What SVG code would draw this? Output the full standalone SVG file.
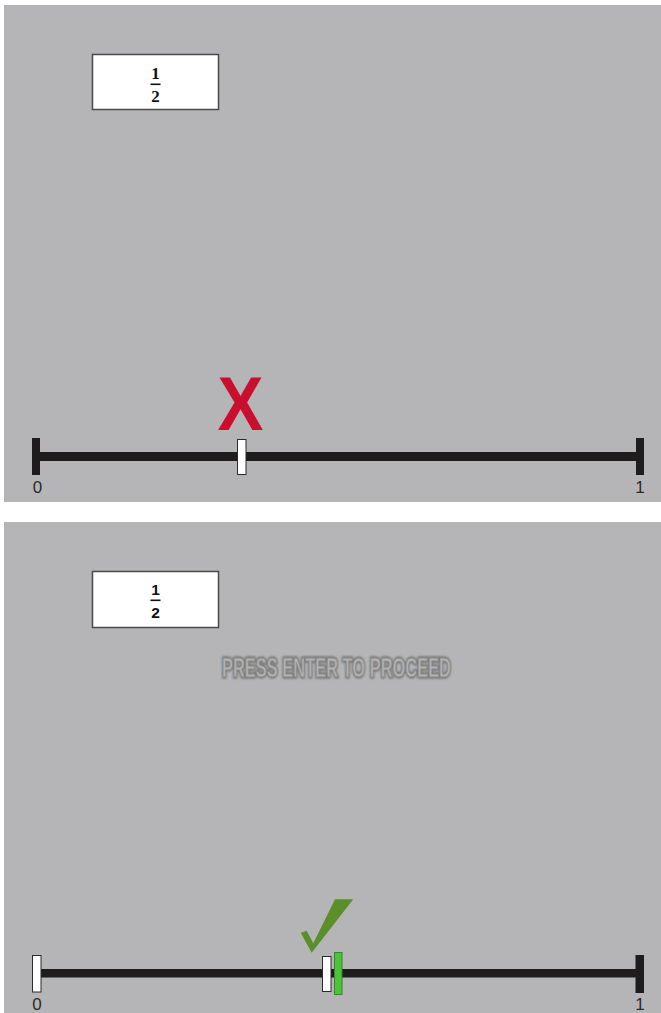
<svg xmlns="http://www.w3.org/2000/svg" width="661" height="1013" viewBox="0 0 661 1013">
  <defs>
    <style>
      .panel { fill: #b5b5b7; }
      .card { fill: #ffffff; stroke: #4a4a4a; stroke-width: 1.5; }
      .bar { fill: #1e1c1d; }
      .lbl { font-family: "Liberation Sans", Arial, sans-serif; font-size: 17px; fill: #2a2a2a; text-anchor: middle; }
      .fracS { font-family: "Liberation Serif", "DejaVu Serif", serif; font-weight: bold; font-size: 17px; fill: #111; text-anchor: middle; }
      .fracA { font-family: "Liberation Sans", Arial, sans-serif; font-weight: bold; font-size: 15.5px; fill: #111; text-anchor: middle; }
      .marker { fill: #ffffff; stroke: #2a2a2a; stroke-width: 1; }
      .press { font-family: "Liberation Sans Narrow", "Liberation Sans", Arial, sans-serif; font-weight: bold; font-size: 28px; }
    </style>
    <filter id="glow" x="-10%" y="-50%" width="120%" height="200%">
      <feGaussianBlur stdDeviation="1.2"/>
    </filter>
  </defs>

  <rect width="661" height="1013" fill="#ffffff"/>

  <!-- Top panel -->
  <g id="panel-top">
    <rect class="panel" x="4" y="5" width="657" height="497"/>
  </g>
  <g id="fraction-top">
    <rect class="card" x="92.5" y="54.5" width="126" height="55"/>
    <text class="fracS" x="155.5" y="78.5">1</text>
    <rect x="150.5" y="83.5" width="10" height="1.6" fill="#111"/>
    <text class="fracS" x="155.5" y="101.5">2</text>
  </g>
  <g id="numberline-top">
    <rect class="bar" x="32" y="438" width="8" height="37"/>
    <rect class="bar" x="40" y="452" width="596" height="9"/>
    <rect class="bar" x="636" y="438" width="8" height="37"/>
    <text class="lbl" x="37.5" y="492.5">0</text>
    <text class="lbl" x="640" y="492.5">1</text>
  </g>
  <g id="marker-top">
    <rect class="marker" x="237.5" y="439.5" width="8.5" height="35"/>
  </g>
  <g id="cross">
    <text x="240.5" y="430" font-family="Liberation Sans, Arial, sans-serif" font-weight="bold" font-size="76" fill="#c8102e" text-anchor="middle" textLength="46" lengthAdjust="spacingAndGlyphs">X</text>
  </g>

  <!-- Bottom panel -->
  <g id="panel-bottom">
    <rect class="panel" x="4" y="522" width="657" height="491"/>
  </g>
  <g id="fraction-bottom">
    <rect class="card" x="92.5" y="571.5" width="126" height="56"/>
    <text class="fracA" x="155.5" y="594.5">1</text>
    <rect x="150.5" y="599.5" width="10" height="1.6" fill="#111"/>
    <text class="fracA" x="155.5" y="617.5">2</text>
  </g>
  <g id="press-enter">
    <text class="press" x="222" y="677" textLength="229" lengthAdjust="spacingAndGlyphs" fill="none" stroke="#6e6e6e" stroke-width="3" filter="url(#glow)">PRESS ENTER TO PROCEED</text>
    <text class="press" x="222" y="677" textLength="229" lengthAdjust="spacingAndGlyphs" fill="#b3b3b3" stroke="#8c8c8c" stroke-width="1">PRESS ENTER TO PROCEED</text>
  </g>
  <g id="numberline-bottom">
    <rect class="bar" x="41" y="969" width="595" height="8.5"/>
    <rect class="bar" x="635.5" y="955" width="8.5" height="38"/>
    <text class="lbl" x="37" y="1009.5">0</text>
    <text class="lbl" x="640" y="1009.5">1</text>
  </g>
  <g id="marker-start">
    <rect class="marker" x="32.5" y="955.5" width="8.5" height="36.5"/>
  </g>
  <g id="marker-answer">
    <rect class="marker" x="322.5" y="956.5" width="8.5" height="35"/>
  </g>
  <g id="marker-correct">
    <rect x="334.5" y="952.5" width="7.5" height="42" fill="#4dc23a" stroke="#2e8a2a" stroke-width="1"/>
  </g>
  <g id="check">
    <polygon points="300.7,932.7 306.7,930.7 313.3,943.3 335,899.3 353.3,899.3 311.7,952.7" fill="#5b8f2a"/>
  </g>
</svg>
